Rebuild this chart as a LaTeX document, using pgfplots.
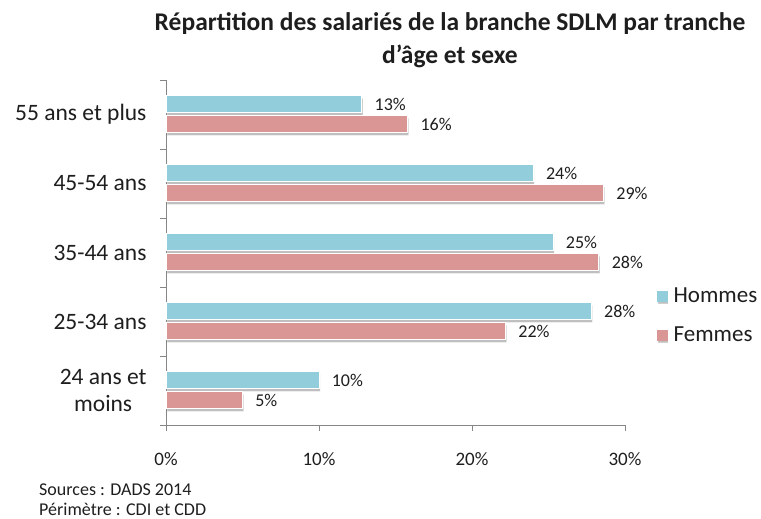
\documentclass[border=0pt]{standalone}
\usepackage{pgfplots}
\pgfplotsset{compat=1.18}
\usepackage{fontspec}
\setmainfont{Carlito}
\usetikzlibrary{shadows}
\definecolor{hcol}{RGB}{146,205,220}
\definecolor{fcol}{RGB}{217,150,148}
\definecolor{axgray}{RGB}{134,134,134}
\definecolor{txt}{RGB}{30,30,30}
\begin{document}
\begin{tikzpicture}
\useasboundingbox (0,0) rectangle (761bp,519bp);
\begin{axis}[
  at={(166bp,94bp)}, anchor=south west,
  scale only axis, width=459bp, height=345bp,
  xbar, bar width=17bp,
  xmin=0, xmax=30, ymin=-0.5, ymax=4.5,
  axis x line*=bottom, axis y line*=left,
  axis line style={-, draw=axgray, line width=0.8bp},
  tick align=outside, major tick length=6bp,
  tick style={draw=axgray, line width=0.8bp},
  /pgf/number format/assume math mode=true,
  xtick={0,10,20,30}, xticklabels={0\%,10\%,20\%,30\%},
  xticklabel style={font=\fontsize{19bp}{22bp}\selectfont, text=txt, yshift=-18bp},
  ytick={-0.5,0.5,1.5,2.5,3.5,4.5},
  y tick label as interval,
  yticklabels={{24 ans et\\moins},{25-34 ans},{35-44 ans},{45-54 ans},{55 ans et plus}},
  yticklabel style={align=center, font=\fontsize{23.5bp}{27bp}\selectfont, text=txt, xshift=-10bp},
  nodes near coords={\pgfmathprintnumber[fixed,precision=0]{\pgfplotspointmeta}\%},
  point meta=x,
  nodes near coords style={font=\fontsize{18bp}{20bp}\selectfont, text=txt, anchor=west, xshift=9bp},
  legend style={at={(1.062,0.317)}, anchor=west, draw=none, fill=none,
    font=\fontsize{23bp}{26bp}\selectfont, text=txt, row sep=19bp, column sep=4bp},
  legend cell align=left,
  clip=false,
]
\addplot[fill=hcol, draw=white, line width=1bp, bar shift=10bp,
  drop shadow={shadow xshift=1bp, shadow yshift=-2.5bp, fill=black, opacity=0.25},
  legend image code/.code={\fill[hcol] (0bp,-5bp) rectangle (10bp,5bp);}]
  coordinates {(10.0,0) (27.8,1) (25.3,2) (24.0,3) (12.8,4)};
\addlegendentry{Hommes}
\addplot[fill=fcol, draw=white, line width=1bp, bar shift=-10bp,
  drop shadow={shadow xshift=1bp, shadow yshift=-2.5bp, fill=black, opacity=0.25},
  legend image code/.code={\fill[fcol] (0bp,-5bp) rectangle (10bp,5bp);}]
  coordinates {(5.0,0) (22.2,1) (28.3,2) (28.6,3) (15.8,4)};
\addlegendentry{Femmes}
\end{axis}
\node[font=\bfseries\fontsize{25.5bp}{33bp}\selectfont, align=center, text=txt] at (450bp,479bp)
  {Répartition des salariés de la branche SDLM par tranche\\d'âge et sexe};
\node[anchor=west, align=left, inner sep=1bp, font=\fontsize{18bp}{20bp}\selectfont, text=txt] at (38bp,19bp)
  {Sources : DADS 2014\\Périmètre : CDI et CDD};
\end{tikzpicture}
\end{document}
